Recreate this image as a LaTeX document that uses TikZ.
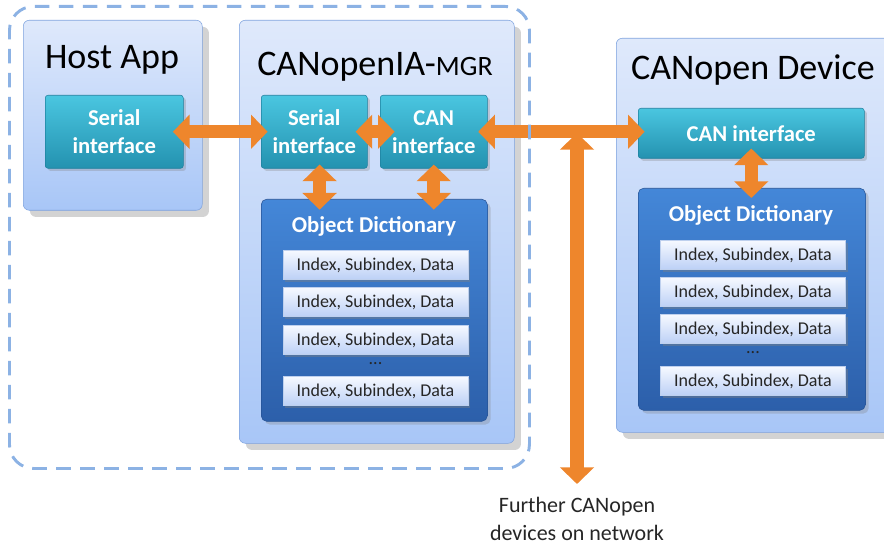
\documentclass[tikz,border=0pt]{standalone}
\usepackage{fontspec}
\setmainfont{Carlito}
\usetikzlibrary{positioning,shadows,arrows.meta}

\definecolor{panelTop}{RGB}{223,233,251}
\definecolor{panelBot}{RGB}{168,198,247}
\definecolor{panelEdge}{RGB}{125,162,222}
\definecolor{ifTop}{RGB}{74,198,224}
\definecolor{ifBot}{RGB}{36,146,176}
\definecolor{ifEdge}{RGB}{30,128,158}
\definecolor{odTop}{RGB}{68,135,216}
\definecolor{odBot}{RGB}{44,95,170}
\definecolor{odEdge}{RGB}{38,82,148}
\definecolor{entTop}{RGB}{246,249,255}
\definecolor{entBot}{RGB}{188,208,246}
\definecolor{linkOrange}{RGB}{238,134,44}
\definecolor{groupEdge}{RGB}{140,178,228}

\begin{document}
\begin{tikzpicture}[
    x=0.75pt, y=-0.75pt,
    panel/.style={rectangle, anchor=north west, draw=panelEdge, thin, top color=panelTop, bottom color=panelBot, rounded corners=4.5pt, drop shadow={opacity=.35, shadow xshift=5pt, shadow yshift=-5pt}},
    paneltitle/.style={font=\fontsize{27}{32}\selectfont},
    iface/.style={rectangle, anchor=north west, draw=ifEdge, top color=ifTop, bottom color=ifBot, rounded corners=2pt, text=white, align=center, inner sep=0pt, font=\bfseries\fontsize{17}{21}\selectfont, drop shadow={opacity=.3, shadow xshift=2pt, shadow yshift=-2pt}},
    odbox/.style={rectangle, anchor=north west, draw=odEdge, top color=odTop, bottom color=odBot, rounded corners=4pt, drop shadow={opacity=.3, shadow xshift=2.5pt, shadow yshift=-2.5pt}},
    odtitle/.style={text=white, font=\bfseries\fontsize{17}{20}\selectfont},
    entry/.style={rectangle, draw=panelEdge!50, top color=entTop, bottom color=entBot, minimum width=138.75pt, minimum height=21.75pt, inner sep=0pt, text=black!85, font=\fontsize{13.5}{16}\selectfont, drop shadow={opacity=.4, shadow xshift=1.5pt, shadow yshift=-1.5pt}},
    odots/.style={text=black!85, font=\fontsize{13.5}{16}\selectfont},
    link/.style={draw=linkOrange, line width=10pt, {Triangle[width=25pt,length=12.5pt]}-{Triangle[width=25pt,length=12.5pt]}},
    localgroup/.style={draw=groupEdge, line width=2.2pt, dash pattern=on 11pt off 7pt, rounded corners=18pt},
    note/.style={align=center, text=black!85, font=\fontsize{16.5}{21}\selectfont}
  ]
  \clip[use as bounding box] (0,0) rectangle (884,545);

  % panels
  \node[panel, minimum width=134.25pt, minimum height=142.5pt] (host) at (23,20) {};
  \node[panel, minimum width=206.25pt, minimum height=317.25pt] (mgr) at (239,20) {};
  \node[panel, minimum width=205.5pt, minimum height=295.5pt] (dev) at (616,38) {};
  \node[paneltitle] (hosttitle) at (112,60) {Host App};
  \node[paneltitle] (mgrtitle) at (375,67) {CANopenIA-{\fontsize{21}{24}\selectfont MGR}};
  \node[paneltitle] (devtitle) at (753,70) {CANopen Device};

  % interfaces
  \node[iface, minimum width=103.5pt, minimum height=54.75pt] (hostser) at (45,95) {Serial\\interface};
  \node[iface, minimum width=79.5pt, minimum height=54.75pt] (mgrser) at (261,95) {Serial\\interface};
  \node[iface, minimum width=80.25pt, minimum height=54.75pt] (mgrcan) at (380,95) {CAN\\interface};
  \node[iface, minimum width=169.5pt, minimum height=37.5pt] (devcan) at (638,108) {CAN interface};

  % object dictionaries
  \node[odbox, minimum width=169.5pt, minimum height=166.5pt] (mgrod) at (261,199) {};
  \node[odtitle] (mgrodtitle) at (374,226) {Object Dictionary};
  \foreach \i/\y in {1/265,2/302,3/340,4/391}
    \node[entry] (mgrentry\i) at (375.5,\y) {Index, Subindex, Data};
  \node[odots] (mgrdots) at (375.5,364) {...};

  \node[odbox, minimum width=170.25pt, minimum height=166.5pt] (devod) at (638,188) {};
  \node[odtitle] (devodtitle) at (751,215) {Object Dictionary};
  \foreach \i/\y in {1/255,2/292,3/329,4/381}
    \node[entry] (deventry\i) at (753,\y) {Index, Subindex, Data};
  \node[odots] (devdots) at (753,353) {...};

  % network
  \coordinate (busjoin) at (577,133);
  \coordinate (busend) at (577,484);
  \node[note] (further) at (577,519) {Further CANopen\\devices on network};

  \draw[link, shorten <=-8pt, shorten >=-5pt] (hostser) -- (mgrser);
  \draw[link, shorten <=-9pt, shorten >=-11pt] (mgrser) -- (mgrcan);
  \draw[link, shorten <=-3pt, shorten >=-8pt] ([xshift=4pt]mgrser.south) -- ([xshift=4pt]mgrser.south |- mgrod.north);
  \draw[link, shorten <=-3pt, shorten >=-8pt] (mgrcan.south) -- (mgrcan.south |- mgrod.north);
  \draw[link, shorten <=-7pt, shorten >=-5pt] (mgrcan.east) -- (mgrcan.east -| devcan.west);
  \draw[link] (busjoin) -- (busend);
  \draw[link, shorten <=-7.5pt, shorten >=-7.5pt] (devcan.south) -- (devcan.south |- devod.north);

  % local side
  \node[localgroup, anchor=north west, minimum width=390pt, minimum height=346.5pt] (local) at (8,5) {};
\end{tikzpicture}
\end{document}
